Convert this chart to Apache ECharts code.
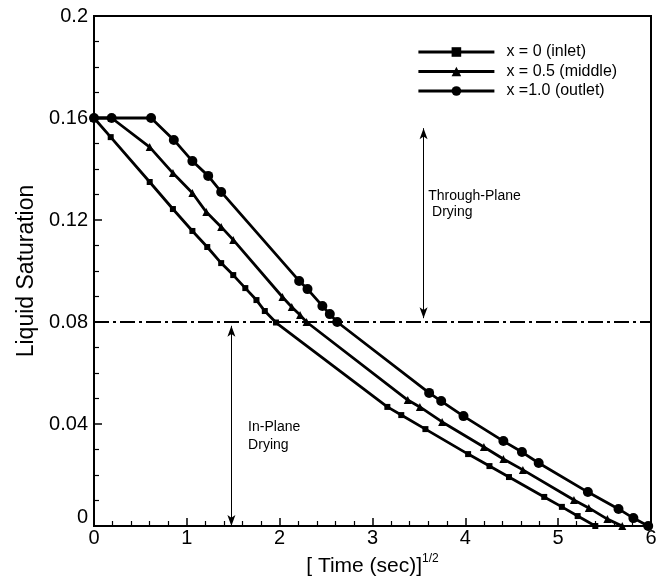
<!DOCTYPE html>
<html lang="en">
<head>
<meta charset="UTF-8">
<title>Liquid Saturation vs Time</title>
<style>
    html, body { margin: 0; padding: 0; background: #fff; }
    #box { width: 662px; height: 576px; }
</style>
</head>
<body>
<div id="box"></div>
<script src="https://cdn.jsdelivr.net/npm/echarts@6/dist/echarts.min.js"></script>
<script>
    // x = [time]^1/2, y = liquid saturation
    var inletX  = [0, 0.18, 0.60, 0.85, 1.06, 1.22, 1.37, 1.50, 1.63, 1.75, 1.84, 1.96, 3.16, 3.31, 3.57, 4.03, 4.26, 4.47, 4.85, 5.04, 5.21, 5.40];
    var inletY  = [0.16, 0.1525, 0.1349, 0.1243, 0.1157, 0.1094, 0.1031, 0.0984, 0.0933, 0.0886, 0.0843, 0.0798, 0.0467, 0.0435, 0.038, 0.0282, 0.0235, 0.0192, 0.0114, 0.0075, 0.0039, 0];
    var middleX = [0, 0.19, 0.60, 0.85, 1.06, 1.21, 1.37, 1.50, 2.03, 2.13, 2.22, 2.29, 3.38, 3.51, 3.75, 4.20, 4.41, 4.62, 5.17, 5.33, 5.53, 5.69];
    var middleY = [0.16, 0.16, 0.1486, 0.1384, 0.1306, 0.1231, 0.1173, 0.1122, 0.0898, 0.0859, 0.0827, 0.080, 0.0494, 0.0467, 0.0408, 0.031, 0.0263, 0.022, 0.0102, 0.0071, 0.0027, 0];
    var outletX = [0, 0.19, 0.615, 0.86, 1.06, 1.23, 1.37, 2.21, 2.30, 2.46, 2.54, 2.62, 3.61, 3.74, 3.98, 4.41, 4.61, 4.79, 5.32, 5.65, 5.81, 5.97];
    var outletY = [0.16, 0.16, 0.16, 0.1514, 0.1431, 0.1373, 0.131, 0.0961, 0.0929, 0.0863, 0.0831, 0.080, 0.0522, 0.049, 0.0431, 0.0333, 0.029, 0.0247, 0.0133, 0.0067, 0.0031, 0];

    var seriesNames = ['x = 0 (inlet)', 'x = 0.5 (middle)', 'x =1.0 (outlet)'];
    var thresholdX = [0, 6];
    var thresholdY = 0.08;

    // double arrows: [x, yFrom, yTo]
    var throughArrow = [3.55, 0.0815, 0.156];
    var inPlaneArrow = [1.48, 0.0785, 0];

    var font = 'Liberation Sans, Arial, Helvetica, sans-serif';

    function pairs(xs, ys) {
        var res = [];
        for (var i = 0; i < xs.length; i++) res.push([xs[i], ys[i]]);
        return res;
    }

    function curve(name, xs, ys, symbol, size) {
        return {
            name: name,
            type: 'line',
            data: pairs(xs, ys),
            symbol: symbol,
            symbolSize: size,
            showAllSymbol: true,
            animation: false,
            lineStyle: { color: '#000', width: 2.8 },
            itemStyle: { color: '#000', borderWidth: 0 },
            z: 3
        };
    }

    var arrowLine = { color: '#000', width: 1, type: 'solid' };

    var mychart = echarts.init(document.getElementById('box'));
    var option = {
        backgroundColor: '#fff',
        animation: false,
        grid: {
            left: 94, right: 11, top: 16, bottom: 50,
            outerBoundsMode: 'none',
            containLabel: false,
            show: true, borderColor: '#000', borderWidth: 2
        },
        legend: {
            orient: 'vertical',
            left: 417, top: 44,
            padding: 0,
            itemWidth: 76, itemHeight: 12, itemGap: 3.5,
            data: seriesNames,
            lineStyle: { width: 2.8 },
            textStyle: { fontFamily: font, fontSize: 16, color: '#000', lineHeight: 16, padding: [0, 0, 0, 7] }
        },
        xAxis: {
            type: 'value',
            min: 0, max: 6, interval: 1,
            name: '{a|[ Time (sec)]}{s|1/2}',
            nameLocation: 'middle',
            nameGap: 22,
            nameTextStyle: {
                rich: {
                    a: { fontFamily: font, fontSize: 21, color: '#000' },
                    s: { fontFamily: font, fontSize: 12, color: '#000', padding: [0, 0, 14, 0] }
                }
            },
            axisLine: { lineStyle: { color: '#000', width: 2 } },
            axisTick: { inside: true, length: 8, lineStyle: { color: '#000', width: 1.5 } },
            minorTick: { show: true, splitNumber: 5, length: 5, lineStyle: { color: '#000', width: 1.2 } },
            axisLabel: { fontFamily: font, fontSize: 20, color: '#000', margin: 2 },
            splitLine: { show: false }
        },
        yAxis: {
            type: 'value',
            min: 0, max: 0.2, interval: 0.04,
            name: 'Liquid Saturation',
            nameLocation: 'middle',
            nameGap: 46,
            nameTextStyle: { fontFamily: font, fontSize: 23, color: '#000' },
            axisLine: { lineStyle: { color: '#000', width: 2 } },
            axisTick: { inside: true, length: 8, lineStyle: { color: '#000', width: 1.5 } },
            minorTick: { show: true, splitNumber: 4, length: 5, lineStyle: { color: '#000', width: 1.2 } },
            axisLabel: {
                fontFamily: font, fontSize: 20, color: '#000', margin: 6,
                formatter: function (v) {
                    var t = String(Math.round(v * 100) / 100);
                    return v === 0 ? '{z|' + t + '}' : t;
                },
                rich: { z: { fontFamily: font, fontSize: 20, color: '#000', padding: [0, 0, 18, 0] } }
            },
            splitLine: { show: false }
        },
        series: [
            curve(seriesNames[0], inletX, inletY, 'rect', 6),
            curve(seriesNames[1], middleX, middleY, 'triangle', 8),
            curve(seriesNames[2], outletX, outletY, 'circle', 10),
            {
                name: 'threshold',
                type: 'line',
                data: [[thresholdX[0], thresholdY], [thresholdX[1], thresholdY]],
                symbol: 'none',
                lineStyle: { color: '#000', width: 2, type: [15, 4, 3, 4] },
                z: 2,
                markLine: {
                    silent: true,
                    symbol: ['arrow', 'arrow'],
                    symbolSize: [6, 11],
                    label: { show: false },
                    lineStyle: arrowLine,
                    data: [
                        [{ coord: [throughArrow[0], throughArrow[1]] }, { coord: [throughArrow[0], throughArrow[2]] }],
                        [{ coord: [inPlaneArrow[0], inPlaneArrow[1]] }, { coord: [inPlaneArrow[0], inPlaneArrow[2]] }]
                    ]
                }
            }
        ]
    };
    mychart.setOption(option);

    // text annotations placed at data positions
    var notes = [
        { text: 'Through-Plane', at: [3.60, 0.129] },
        { text: ' Drying', at: [3.60, 0.1225] },
        { text: 'In-Plane', at: [1.66, 0.0385] },
        { text: 'Drying', at: [1.66, 0.0315] }
    ];
    var graphics = notes.map(function (n) {
        var p = mychart.convertToPixel({ gridIndex: 0 }, n.at);
        return {
            type: 'text', left: p[0], top: p[1] - 8,
            style: { text: n.text, font: '14px ' + font, fill: '#000' }
        };
    });
    mychart.setOption({ graphic: graphics });
</script>
</body>
</html>
